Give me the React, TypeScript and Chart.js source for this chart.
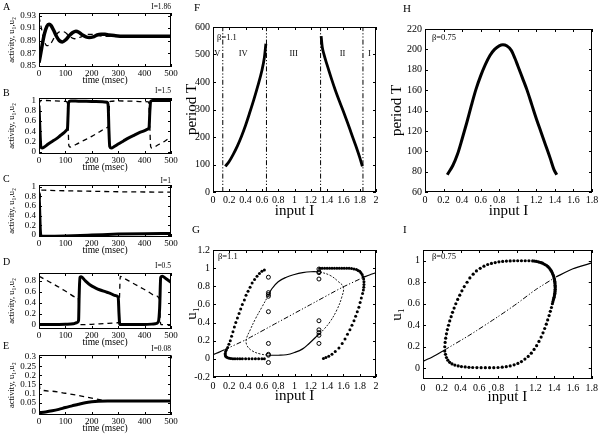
import React, { useEffect, useRef } from "react";
import { Chart, registerables } from "chart.js";
Chart.register(...registerables);

type Pt = [number, number];
const SERIF = '"Liberation Serif", "Times New Roman", serif';

// ---------- tick values ----------
const TIME_TICKS = [0, 100, 200, 300, 400, 500];
const A_TICKS = [0.85, 0.87, 0.89, 0.91, 0.93];
const UNIT_TICKS = [0, 0.2, 0.4, 0.6, 0.8, 1];
const D_TICKS = [0, 0.2, 0.4, 0.6, 0.8];
const E_TICKS = [0, 0.05, 0.1, 0.15, 0.2, 0.25, 0.3];
const INPUT2_TICKS = [0, 0.2, 0.4, 0.6, 0.8, 1, 1.2, 1.4, 1.6, 1.8, 2];
const INPUT18_TICKS = [0, 0.2, 0.4, 0.6, 0.8, 1, 1.2, 1.4, 1.6, 1.8];
const F_T_TICKS = [0, 100, 200, 300, 400, 500, 600];
const H_T_TICKS = [60, 80, 100, 120, 140, 160, 180, 200, 220];
const G_U_TICKS = [-0.2, 0, 0.2, 0.4, 0.6, 0.8, 1, 1.2];
const I_U_TICKS = [0, 0.2, 0.4, 0.6, 0.8, 1];

// ---------- panel A (I=1.86) ----------
const A_U1: Pt[] = [[0,0.855],[5,0.866],[10,0.878],[20,0.9],[30,0.913],[38,0.916],[46,0.914],[56,0.906],[66,0.897],[77,0.89],[88,0.888],[100,0.891],[115,0.898],[128,0.903],[140,0.905],[152,0.903],[165,0.899],[178,0.896],[190,0.895],[205,0.896],[220,0.899],[235,0.9],[250,0.9],[265,0.899],[285,0.898],[320,0.897],[400,0.897],[500,0.897]];
const A_U2: Pt[] = [[0,0.928],[8,0.912],[18,0.892],[30,0.882],[42,0.884],[60,0.896],[78,0.904],[95,0.904],[115,0.897],[135,0.893],[160,0.896],[185,0.9],[210,0.9],[240,0.897],[270,0.897],[300,0.898],[350,0.897],[500,0.897]];
// ---------- panel B (I=1.5) ----------
const B_U1: Pt[] = [[0,0.9],[3,0.5],[7,0.1],[12,0.07],[20,0.09],[35,0.15],[50,0.2],[65,0.25],[80,0.31],[95,0.37],[104,0.42],[108,0.46],[110,0.7],[112,0.96],[120,0.99],[150,0.985],[200,0.98],[240,0.975],[258,0.965],[262,0.9],[265,0.4],[268,0.1],[274,0.07],[285,0.1],[300,0.15],[320,0.21],[340,0.27],[360,0.32],[380,0.37],[400,0.41],[412,0.44],[417,0.48],[420,0.8],[423,0.98],[430,1.0],[500,1.0]];
const B_U2: Pt[] = [[0,0.93],[5,0.99],[15,1.0],[60,0.99],[100,0.98],[107,0.96],[110,0.6],[113,0.12],[118,0.09],[140,0.14],[170,0.22],[200,0.3],[230,0.39],[258,0.47],[263,0.5],[266,0.85],[270,0.98],[300,0.99],[350,0.985],[400,0.975],[415,0.97],[419,0.6],[423,0.1],[428,0.07],[450,0.13],[475,0.2],[500,0.3]];
// ---------- panel C (I=1) ----------
const C_U1: Pt[] = [[0,0.88],[2,0.6],[5,0.1],[8,-0.025],[30,-0.028],[100,-0.022],[200,-0.005],[300,0.015],[400,0.025],[500,0.03]];
const C_U2: Pt[] = [[0,0.0],[2,0.4],[5,0.86],[9,0.93],[30,0.925],[100,0.915],[200,0.905],[300,0.895],[400,0.89],[500,0.885]];
// ---------- panel D (I=0.5) ----------
const D_U1: Pt[] = [[0,0.0],[50,0.0],[100,0.005],[130,0.015],[145,0.04],[150,0.08],[152,0.5],[155,0.86],[160,0.87],[175,0.8],[194,0.72],[213,0.67],[232,0.63],[251,0.6],[270,0.57],[288,0.53],[300,0.5],[303,0.2],[306,0.0],[320,0.0],[400,0.0],[440,0.015],[452,0.05],[457,0.3],[461,0.86],[467,0.88],[480,0.84],[500,0.77]];
const D_U2: Pt[] = [[0,0.88],[20,0.83],[50,0.75],[80,0.67],[110,0.58],[140,0.5],[149,0.47],[152,0.1],[155,0.0],[200,0.005],[250,0.02],[290,0.03],[302,0.04],[305,0.5],[308,0.88],[320,0.85],[350,0.77],[380,0.69],[410,0.61],[440,0.53],[456,0.47],[459,0.1],[462,0.0],[500,0.0]];
// ---------- panel E (I=0.08) ----------
const E_U1: Pt[] = [[0,-0.004],[25,0.0],[50,0.006],[75,0.014],[100,0.024],[125,0.033],[150,0.042],[175,0.05],[200,0.055],[225,0.058],[260,0.06],[350,0.06],[500,0.06]];
const E_U2: Pt[] = [[0,0.3],[1,0.2],[2,0.14],[5,0.123],[50,0.113],[100,0.102],[150,0.09],[200,0.075],[240,0.064],[280,0.06],[350,0.06],[500,0.06]];

// ---------- panel F (beta=1.1, period) ----------
const F_LEFT: Pt[] = [[0.151,93],[0.2,112],[0.25,138],[0.3,168],[0.35,203],[0.4,243],[0.45,288],[0.5,335],[0.55,386],[0.6,442],[0.63,488],[0.649,539]];
const F_RIGHT: Pt[] = [[1.327,567],[1.34,528],[1.36,502],[1.4,462],[1.45,415],[1.5,371],[1.55,331],[1.6,293],[1.65,253],[1.7,211],[1.75,170],[1.8,126],[1.833,93]];
const F_BOUNDS = [0.12, 0.656, 1.32, 1.84];
const F_REGIONS: [string, number][] = [["V",0.053],["IV",0.37],["III",0.99],["II",1.59],["I",1.92]];

// ---------- panel H (beta=0.75, period) ----------
const H_CURVE: Pt[] = [[0.24,77],[0.3,86],[0.35,97],[0.4,112],[0.45,128],[0.5,145],[0.55,161],[0.6,174],[0.65,185],[0.7,194],[0.75,200],[0.8,203.5],[0.84,204.5],[0.88,203.5],[0.93,199],[0.97,191],[1.0,184],[1.05,172],[1.1,160],[1.15,146],[1.2,132],[1.25,119],[1.3,106],[1.35,93],[1.39,82],[1.42,77]];

// ---------- panel G (beta=1.1, u1 vs I) ----------
const G_FIX_LO: Pt[] = [[0,0.045],[0.07,0.072],[0.14,0.1]];
const G_FIX_MID: Pt[] = [[0.14,0.1],[0.4,0.21],[0.8,0.405],[1.2,0.6],[1.58,0.785],[1.85,0.9]];
const G_FIX_HI: Pt[] = [[1.85,0.9],[1.92,0.925],[2,0.95]];
const G_LEFT_CYCLE: Pt[] = [[0.63,0.98],[0.6,0.965],[0.57,0.94],[0.54,0.91],[0.51,0.875],[0.48,0.835],[0.455,0.79],[0.43,0.745],[0.405,0.7],[0.385,0.65],[0.36,0.6],[0.34,0.55],[0.32,0.5],[0.3,0.45],[0.28,0.4],[0.262,0.35],[0.245,0.3],[0.228,0.25],[0.212,0.2],[0.195,0.16],[0.18,0.125],[0.165,0.1],[0.155,0.08],[0.15,0.06],[0.15,0.045],[0.155,0.03],[0.165,0.02],[0.18,0.012],[0.2,0.006],[0.22,0.003],[0.245,0.001],[0.27,0],[0.3,0],[0.33,0],[0.36,0],[0.4,0],[0.44,0],[0.48,0],[0.52,0],[0.56,0],[0.6,0],[0.63,0]];
const G_RIGHT_CYCLE: Pt[] = [[1.31,1.0],[1.34,1.0],[1.37,1.0],[1.4,1.0],[1.43,1.0],[1.46,1.0],[1.49,1.0],[1.52,1.0],[1.55,1.0],[1.58,1.0],[1.61,1.0],[1.64,1.0],[1.67,0.998],[1.7,0.995],[1.73,0.99],[1.76,0.985],[1.78,0.975],[1.8,0.965],[1.815,0.95],[1.83,0.93],[1.84,0.905],[1.848,0.88],[1.852,0.85],[1.852,0.82],[1.85,0.79],[1.845,0.76],[1.835,0.72],[1.82,0.67],[1.805,0.62],[1.79,0.57],[1.77,0.52],[1.75,0.47],[1.73,0.42],[1.705,0.37],[1.68,0.32],[1.65,0.27],[1.62,0.22],[1.585,0.17],[1.545,0.12],[1.5,0.08],[1.46,0.05],[1.42,0.03],[1.385,0.015],[1.355,0.005]];
const G_STABLE_UP: Pt[] = [[0.68,0.7],[0.72,0.77],[0.8,0.85],[0.9,0.9],[1.0,0.93],[1.1,0.95],[1.2,0.96],[1.31,0.96]];
const G_STABLE_DOWN: Pt[] = [[0.68,0.04],[0.8,0.04],[0.9,0.045],[1.0,0.07],[1.1,0.11],[1.18,0.17],[1.25,0.23],[1.31,0.28]];
const G_UNSTABLE_L: Pt[] = [[0.68,0.7],[0.6,0.57],[0.52,0.44],[0.457,0.32],[0.41,0.22],[0.415,0.15],[0.478,0.09],[0.58,0.054],[0.68,0.04]];
const G_UNSTABLE_R: Pt[] = [[1.31,0.96],[1.437,0.92],[1.54,0.85],[1.6,0.79],[1.58,0.68],[1.52,0.54],[1.437,0.41],[1.355,0.32],[1.31,0.28]];
const G_CIRCLES_A: Pt[] = [[0.68,0.9],[0.68,0.73],[0.68,0.71],[0.68,0.69],[0.68,0.52],[0.68,0.17],[0.68,0.05],[0.68,0.04],[0.68,-0.04]];
const G_CIRCLES_B: Pt[] = [[1.3,0.99],[1.3,0.96],[1.3,0.95],[1.3,0.88],[1.3,0.42],[1.3,0.32],[1.3,0.29],[1.3,0.26],[1.3,0.17]];

// ---------- panel I (beta=0.75, u1 vs I) ----------
const I_FIX_LO: Pt[] = [[0,0.065],[0.1,0.105],[0.23,0.17]];
const I_FIX_MID: Pt[] = [[0.23,0.17],[0.5,0.31],[0.8,0.48],[1.0,0.6],[1.2,0.73],[1.42,0.85]];
const I_FIX_HI: Pt[] = [[1.42,0.85],[1.6,0.925],[1.8,0.98]];
const I_CYCLE: Pt[] = [[0.232,0.2],[0.236,0.24],[0.242,0.28],[0.25,0.32],[0.26,0.36],[0.272,0.4],[0.285,0.44],[0.3,0.48],[0.315,0.52],[0.332,0.56],[0.35,0.6],[0.37,0.64],[0.392,0.68],[0.415,0.72],[0.44,0.76],[0.47,0.8],[0.5,0.84],[0.535,0.875],[0.57,0.905],[0.61,0.93],[0.65,0.95],[0.69,0.965],[0.73,0.975],[0.77,0.983],[0.81,0.99],[0.85,0.994],[0.89,0.997],[0.93,0.998],[0.97,1.0],[1.01,1.0],[1.05,1.0],[1.09,1.0],[1.13,1.0],[1.17,0.998],[1.19,0.997],[1.21,0.994],[1.23,0.99],[1.245,0.986],[1.26,0.982],[1.275,0.977],[1.29,0.97],[1.305,0.963],[1.32,0.955],[1.333,0.945],[1.345,0.935],[1.355,0.923],[1.365,0.91],[1.373,0.898],[1.38,0.885],[1.386,0.872],[1.392,0.86],[1.396,0.848],[1.4,0.835],[1.403,0.822],[1.405,0.81],[1.407,0.797],[1.408,0.785],[1.409,0.772],[1.41,0.76],[1.41,0.748],[1.41,0.735],[1.409,0.722],[1.408,0.71],[1.406,0.697],[1.404,0.685],[1.401,0.672],[1.398,0.66],[1.394,0.647],[1.39,0.635],[1.385,0.618],[1.38,0.6],[1.37,0.565],[1.358,0.53],[1.345,0.49],[1.33,0.45],[1.315,0.41],[1.298,0.37],[1.28,0.33],[1.26,0.29],[1.237,0.25],[1.212,0.21],[1.185,0.175],[1.155,0.14],[1.122,0.11],[1.087,0.085],[1.05,0.062],[1.012,0.045],[0.972,0.032],[0.93,0.022],[0.888,0.015],[0.845,0.01],[0.8,0.007],[0.755,0.005],[0.71,0.005],[0.665,0.005],[0.62,0.005],[0.575,0.006],[0.53,0.007],[0.49,0.009],[0.45,0.012],[0.41,0.016],[0.375,0.022],[0.34,0.03],[0.31,0.04],[0.285,0.055],[0.265,0.075],[0.25,0.1],[0.24,0.13],[0.232,0.16]];

// ---------- helpers ----------
const pts = (a: Pt[]) => a.map(([x, y]) => ({ x, y }));
const BLACK = "#000";

const thick = (d: Pt[], w = 3) => ({ data: pts(d), borderColor: BLACK, borderWidth: w, pointRadius: 0, fill: false, cubicInterpolationMode: "monotone" });
const dashed = (d: Pt[]) => ({ data: pts(d), borderColor: BLACK, borderWidth: 1.3, borderDash: [5, 4], pointRadius: 0, fill: false, cubicInterpolationMode: "monotone" });
const line = (d: Pt[], w: number, dash: number[] = [], tension = 0.4) => ({ data: pts(d), borderColor: BLACK, borderWidth: w, borderDash: dash, pointRadius: 0, fill: false, tension });
const dots = (d: Pt[], r = 1.5) => ({ data: pts(d), showLine: false, pointRadius: r, pointBackgroundColor: BLACK, pointBorderWidth: 0, borderColor: BLACK });
const rings = (d: Pt[]) => ({ data: pts(d), showLine: false, pointRadius: 2, pointBorderWidth: 1, pointBorderColor: BLACK, pointBackgroundColor: "rgba(0,0,0,0)", borderColor: BLACK });
const DASHDOT = [5, 2, 1.2, 2, 1.2, 2];

interface AxisSpec { min: number; max: number; ticks: number[]; title: string; tickSize: number; titleSize: number; tickPad: number; titlePad: number; }
interface TextItem { text: string; x: number; y: number; size: number; align?: CanvasTextAlign; }
interface Spec { id: string; left: number; top: number; width: number; height: number; box: [number, number, number, number]; x: AxisSpec; y: AxisSpec; datasets: any[]; texts?: TextItem[]; }

const fmt = (v: number) => String(+Number(v).toFixed(3));

function axisOpts(a: AxisSpec, isX: boolean, size: number) {
  return {
    type: "linear",
    min: a.min,
    max: a.max,
    afterBuildTicks: (s: any) => { s.ticks = a.ticks.map((v) => ({ value: v })); },
    afterFit: (s: any) => { if (isX) s.height = size; else s.width = size; },
    grid: { display: false, drawTicks: false },
    border: { display: false },
    ticks: { font: { family: SERIF, size: a.tickSize }, color: BLACK, padding: a.tickPad, autoSkip: false, maxRotation: 0, minRotation: 0, callback: (v: any) => fmt(v) },
    title: { display: true, text: a.title, color: BLACK, font: { family: SERIF, size: a.titleSize }, padding: { top: a.titlePad, bottom: a.titlePad } },
  };
}

const framePlugin = {
  id: "frame",
  afterDatasetsDraw(chart: any) {
    const { ctx, chartArea: c, scales } = chart;
    ctx.save();
    ctx.strokeStyle = BLACK;
    ctx.lineWidth = 1;
    ctx.strokeRect(Math.round(c.left) + 0.5, Math.round(c.top) + 0.5, Math.round(c.right - c.left) - 1, Math.round(c.bottom - c.top) - 1);
    const L = 3;
    ctx.beginPath();
    for (const t of scales.x.ticks) {
      const p = Math.round(scales.x.getPixelForValue(t.value)) + 0.5;
      ctx.moveTo(p, c.bottom); ctx.lineTo(p, c.bottom - L);
      ctx.moveTo(p, c.top); ctx.lineTo(p, c.top + L);
    }
    for (const t of scales.y.ticks) {
      const p = Math.round(scales.y.getPixelForValue(t.value)) + 0.5;
      ctx.moveTo(c.left, p); ctx.lineTo(c.left + L, p);
      ctx.moveTo(c.right, p); ctx.lineTo(c.right - L, p);
    }
    ctx.stroke();
    ctx.restore();
  },
};

function buildConfig(s: Spec) {
  const [bl, bt, br, bb] = s.box;
  const textPlugin = {
    id: "texts",
    afterDatasetsDraw(chart: any) {
      const { ctx, scales } = chart;
      ctx.save();
      ctx.fillStyle = BLACK;
      ctx.textBaseline = "alphabetic";
      for (const t of s.texts || []) {
        ctx.font = `${t.size}px ${SERIF}`;
        ctx.textAlign = t.align || "left";
        ctx.fillText(t.text, scales.x.getPixelForValue(t.x), scales.y.getPixelForValue(t.y));
      }
      ctx.restore();
    },
  };
  return {
    type: "line",
    data: { datasets: s.datasets },
    options: {
      animation: false,
      responsive: false,
      devicePixelRatio: 1,
      events: [],
      layout: { padding: { left: 0, top: bt - s.top, right: s.left + s.width - br, bottom: 0 } },
      plugins: { legend: { display: false }, tooltip: { enabled: false } },
      scales: { x: axisOpts(s.x, true, s.top + s.height - bb), y: axisOpts(s.y, false, bl - s.left) },
    },
    plugins: [framePlugin, textPlugin],
  };
}

const timeAxis = (): AxisSpec => ({ min: 0, max: 500, ticks: TIME_TICKS, title: "time (msec)", tickSize: 9, titleSize: 9.5, tickPad: 1, titlePad: 0.5 });
const actAxis = (min: number, max: number, ticks: number[]): AxisSpec => ({ min, max, ticks, title: "activity, u\u2081,u\u2082", tickSize: 9, titleSize: 8.5, tickPad: 3, titlePad: 6.5 });

const SPECS: Spec[] = [
  { id: "A", left: 0, top: 0, width: 186, height: 87, box: [39, 13, 171, 67], x: timeAxis(), y: actAxis(0.848, 0.934, A_TICKS), datasets: [dashed(A_U2), thick(A_U1, 3.5)] },
  { id: "B", left: 0, top: 87, width: 186, height: 87, box: [39, 98, 171, 154], x: timeAxis(), y: actAxis(-0.045, 1.047, UNIT_TICKS), datasets: [dashed(B_U2), thick(B_U1)] },
  { id: "C", left: 0, top: 174, width: 186, height: 83, box: [39, 185, 171, 237], x: timeAxis(), y: actAxis(-0.045, 1.035, UNIT_TICKS), datasets: [dashed(C_U2), thick(C_U1)] },
  { id: "D", left: 0, top: 257, width: 186, height: 92, box: [39, 273, 171, 329], x: timeAxis(), y: actAxis(-0.08, 0.94, D_TICKS), datasets: [dashed(D_U2), thick(D_U1)] },
  { id: "E", left: 0, top: 347, width: 186, height: 88, box: [39, 354, 171, 415], x: timeAxis(), y: actAxis(-0.017, 0.309, E_TICKS), datasets: [dashed(E_U2), thick(E_U1)] },
  {
    id: "F", left: 183, top: 0, width: 205, height: 220, box: [213, 27, 376, 192],
    x: { min: 0, max: 2, ticks: INPUT2_TICKS, title: "input I", tickSize: 10, titleSize: 15, tickPad: 2, titlePad: 0 },
    y: { min: 0, max: 600, ticks: F_T_TICKS, title: "period T", tickSize: 10, titleSize: 15, tickPad: 3, titlePad: 0 },
    datasets: [
      ...F_BOUNDS.map((b) => line([[b, 0], [b, 600]], 1, DASHDOT, 0)),
      thick(F_LEFT, 2.8),
      thick(F_RIGHT, 2.8),
    ],
    texts: [
      { text: "\u03b2=1.1", x: 0.05, y: 553, size: 8.5 },
      ...F_REGIONS.map(([t, x]) => ({ text: t, x, y: 495, size: 8.5, align: "center" as CanvasTextAlign })),
    ],
  },
  {
    id: "H", left: 388, top: 0, width: 213, height: 220, box: [425, 29, 592, 192],
    x: { min: 0, max: 1.8, ticks: INPUT18_TICKS, title: "input I", tickSize: 10, titleSize: 15, tickPad: 2, titlePad: 0 },
    y: { min: 60, max: 220, ticks: H_T_TICKS, title: "period T", tickSize: 10, titleSize: 15, tickPad: 3, titlePad: 0 },
    datasets: [thick(H_CURVE, 3)],
    texts: [{ text: "\u03b2=0.75", x: 0.075, y: 209, size: 8.5 }],
  },
  {
    id: "G", left: 183, top: 222, width: 205, height: 183, box: [213, 250, 376, 377],
    x: { min: 0, max: 2, ticks: INPUT2_TICKS, title: "input I", tickSize: 10, titleSize: 15, tickPad: 3.7, titlePad: 0 },
    y: { min: -0.2, max: 1.2, ticks: G_U_TICKS, title: "u\u2081", tickSize: 10, titleSize: 15, tickPad: 3, titlePad: 0 },
    datasets: [
      line(G_FIX_LO, 1.2, [], 0.2),
      line(G_FIX_MID, 1, DASHDOT, 0.2),
      line(G_FIX_HI, 1.2, [], 0.2),
      line(G_STABLE_UP, 1.2),
      line(G_STABLE_DOWN, 1.2),
      line(G_UNSTABLE_L, 0.9, [2, 1.5]),
      line(G_UNSTABLE_R, 0.9, [2, 1.5]),
      dots(G_LEFT_CYCLE),
      dots(G_RIGHT_CYCLE),
      rings(G_CIRCLES_A),
      rings(G_CIRCLES_B),
    ],
    texts: [{ text: "\u03b2=1.1", x: 0.06, y: 1.1, size: 8.5 }],
  },
  {
    id: "I", left: 388, top: 222, width: 213, height: 184, box: [423, 250, 593, 379],
    x: { min: 0, max: 1.8, ticks: INPUT18_TICKS, title: "input I", tickSize: 10, titleSize: 15, tickPad: 3, titlePad: 0 },
    y: { min: -0.1, max: 1.1, ticks: I_U_TICKS, title: "u\u2081", tickSize: 10, titleSize: 15, tickPad: 3, titlePad: 0 },
    datasets: [
      line(I_FIX_LO, 1.2, [], 0.2),
      line(I_FIX_MID, 1, DASHDOT, 0.2),
      line(I_FIX_HI, 1.2, [], 0.2),
      dots(I_CYCLE, 1.6),
    ],
    texts: [{ text: "\u03b2=0.75", x: 0.095, y: 1.016, size: 8.5 }],
  },
];

function Panel({ spec }: { spec: Spec }) {
  const ref = useRef<HTMLCanvasElement>(null);
  useEffect(() => {
    if (!ref.current) return;
    const chart = new Chart(ref.current, buildConfig(spec) as any);
    return () => chart.destroy();
  }, [spec]);
  return (
    <canvas
      ref={ref}
      width={spec.width}
      height={spec.height}
      style={{ position: "absolute", left: spec.left, top: spec.top, width: spec.width, height: spec.height }}
    />
  );
}

function Txt({ x, base, size, right, children }: { x: number; base: number; size: number; right?: boolean; children: React.ReactNode }) {
  return (
    <span
      style={{
        position: "absolute",
        left: right ? undefined : x,
        right: right ? 601 - x : undefined,
        top: base - 0.84 * size,
        fontSize: size,
        lineHeight: 1,
        whiteSpace: "nowrap",
        color: "#000",
      }}
    >
      {children}
    </span>
  );
}

export default function App() {
  return (
    <div style={{ position: "fixed", left: 0, top: 0, width: 601, height: 435, background: "#fff", overflow: "hidden", fontFamily: SERIF }}>
      {SPECS.map((s) => (
        <Panel key={s.id} spec={s} />
      ))}
      <Txt x={3} base={10} size={10}>A</Txt>
      <Txt x={3} base={96} size={10}>B</Txt>
      <Txt x={3} base={182} size={10}>C</Txt>
      <Txt x={3} base={265} size={10}>D</Txt>
      <Txt x={3} base={349} size={10}>E</Txt>
      <Txt x={194} base={11} size={11}>F</Txt>
      <Txt x={403} base={12} size={11}>H</Txt>
      <Txt x={192} base={233} size={11}>G</Txt>
      <Txt x={403} base={233} size={11}>I</Txt>
      <Txt x={171} base={9.5} size={7.5} right>I=1.86</Txt>
      <Txt x={171} base={93} size={7.5} right>I=1.5</Txt>
      <Txt x={171} base={183} size={7.5} right>I=1</Txt>
      <Txt x={171} base={268} size={7.5} right>I=0.5</Txt>
      <Txt x={171} base={351} size={7.5} right>I=0.08</Txt>
    </div>
  );
}
